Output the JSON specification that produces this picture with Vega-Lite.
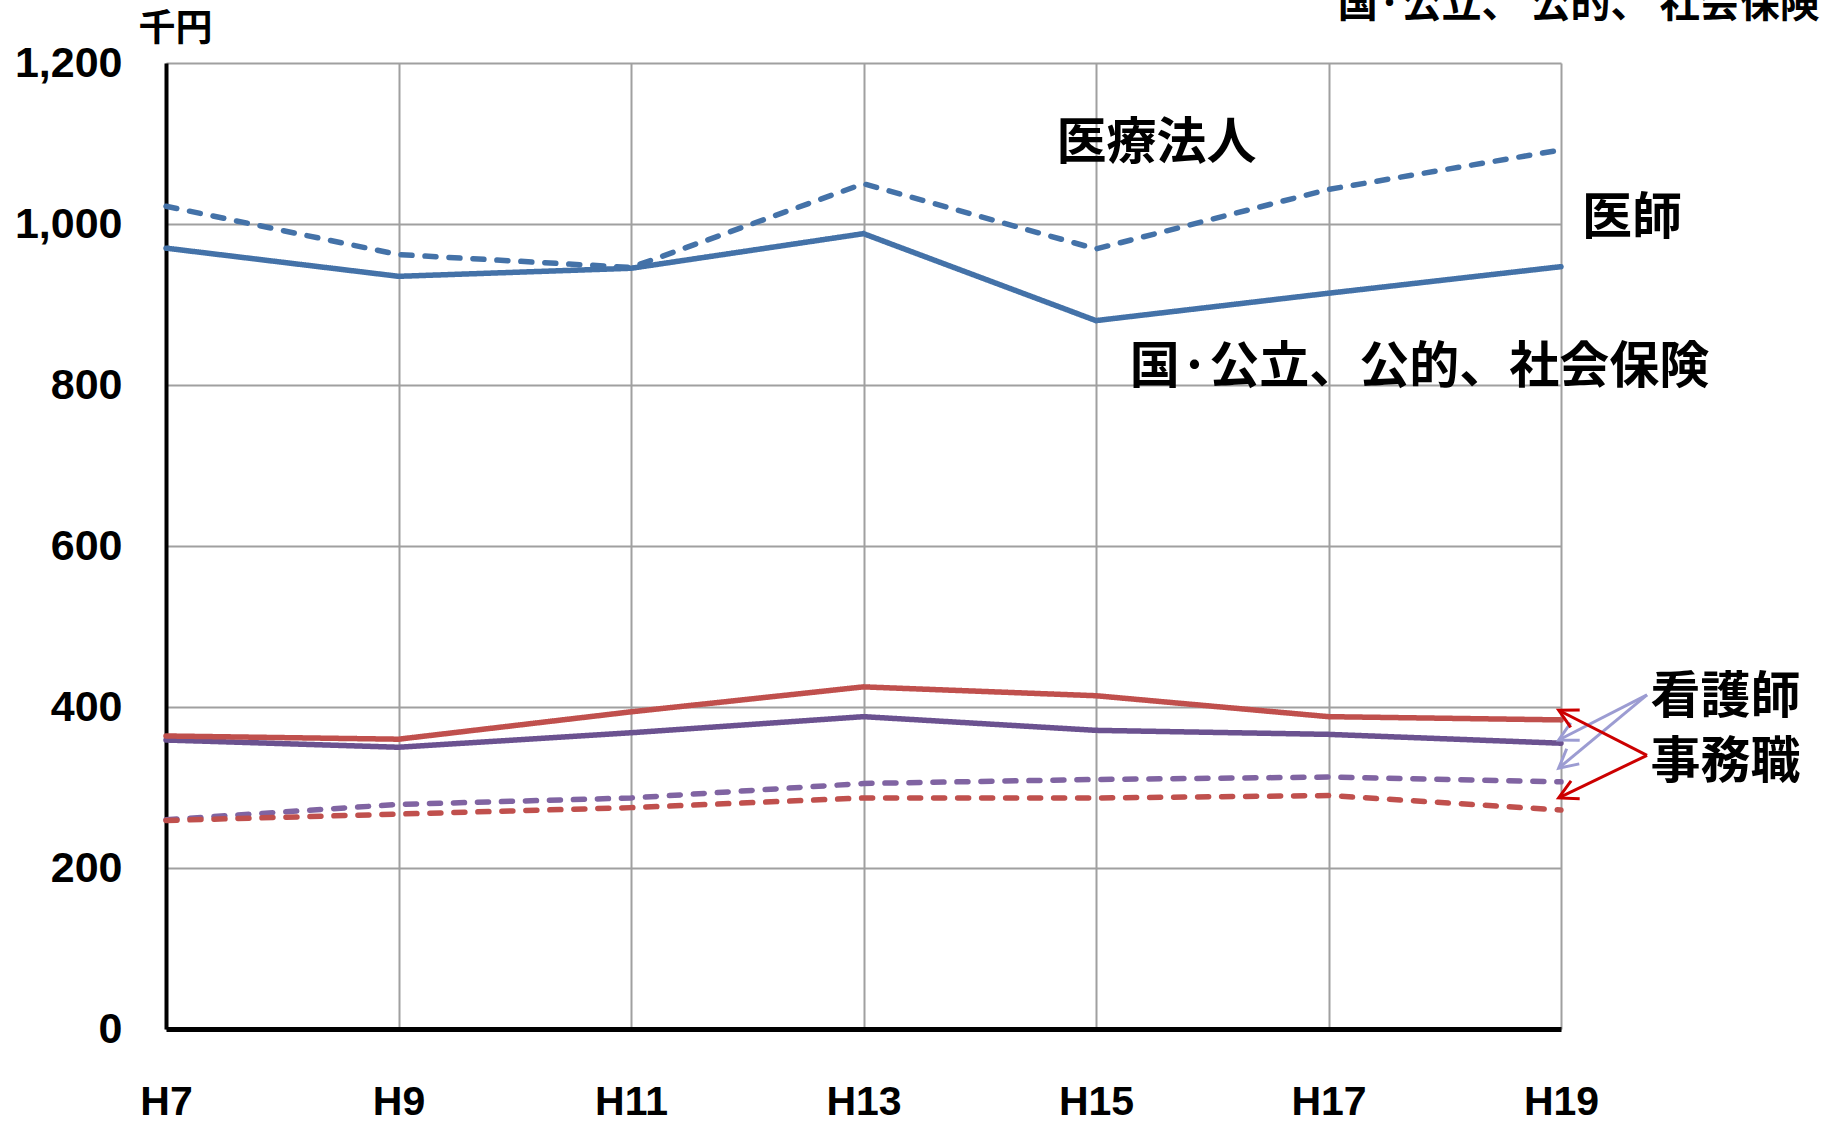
{
  "$schema": "https://vega.github.io/schema/vega-lite/v6.json",
  "width": 1395,
  "height": 966,
  "autosize": {"type": "none"},
  "padding": {"left": 166, "top": 63, "right": 266, "bottom": 94},
  "background": "white",
  "config": {"view": {"stroke": null}, "font": "Liberation Sans"},
  "datasets": {
    "series": [
      {"year": 7, "series": "看護師・国公立", "kind": "国公立", "value": 359},
      {"year": 9, "series": "看護師・国公立", "kind": "国公立", "value": 350},
      {"year": 11, "series": "看護師・国公立", "kind": "国公立", "value": 368},
      {"year": 13, "series": "看護師・国公立", "kind": "国公立", "value": 388},
      {"year": 15, "series": "看護師・国公立", "kind": "国公立", "value": 371},
      {"year": 17, "series": "看護師・国公立", "kind": "国公立", "value": 366},
      {"year": 19, "series": "看護師・国公立", "kind": "国公立", "value": 355},
      {"year": 7, "series": "看護師・医療法人", "kind": "医療法人", "value": 260},
      {"year": 9, "series": "看護師・医療法人", "kind": "医療法人", "value": 279},
      {"year": 11, "series": "看護師・医療法人", "kind": "医療法人", "value": 287},
      {"year": 13, "series": "看護師・医療法人", "kind": "医療法人", "value": 305},
      {"year": 15, "series": "看護師・医療法人", "kind": "医療法人", "value": 310},
      {"year": 17, "series": "看護師・医療法人", "kind": "医療法人", "value": 313},
      {"year": 19, "series": "看護師・医療法人", "kind": "医療法人", "value": 307},
      {"year": 7, "series": "事務職・国公立", "kind": "国公立", "value": 364},
      {"year": 9, "series": "事務職・国公立", "kind": "国公立", "value": 360},
      {"year": 11, "series": "事務職・国公立", "kind": "国公立", "value": 394},
      {"year": 13, "series": "事務職・国公立", "kind": "国公立", "value": 425},
      {"year": 15, "series": "事務職・国公立", "kind": "国公立", "value": 414},
      {"year": 17, "series": "事務職・国公立", "kind": "国公立", "value": 388},
      {"year": 19, "series": "事務職・国公立", "kind": "国公立", "value": 384},
      {"year": 7, "series": "事務職・医療法人", "kind": "医療法人", "value": 259},
      {"year": 9, "series": "事務職・医療法人", "kind": "医療法人", "value": 267},
      {"year": 11, "series": "事務職・医療法人", "kind": "医療法人", "value": 275},
      {"year": 13, "series": "事務職・医療法人", "kind": "医療法人", "value": 287},
      {"year": 15, "series": "事務職・医療法人", "kind": "医療法人", "value": 287},
      {"year": 17, "series": "事務職・医療法人", "kind": "医療法人", "value": 290},
      {"year": 19, "series": "事務職・医療法人", "kind": "医療法人", "value": 272},
      {"year": 7, "series": "医師・国公立", "kind": "国公立", "value": 970},
      {"year": 9, "series": "医師・国公立", "kind": "国公立", "value": 935},
      {"year": 11, "series": "医師・国公立", "kind": "国公立", "value": 945},
      {"year": 13, "series": "医師・国公立", "kind": "国公立", "value": 988},
      {"year": 15, "series": "医師・国公立", "kind": "国公立", "value": 880},
      {"year": 17, "series": "医師・国公立", "kind": "国公立", "value": 914},
      {"year": 19, "series": "医師・国公立", "kind": "国公立", "value": 947},
      {"year": 7, "series": "医師・医療法人", "kind": "医療法人", "value": 1022},
      {"year": 9, "series": "医師・医療法人", "kind": "医療法人", "value": 962},
      {"year": 11, "series": "医師・医療法人", "kind": "医療法人", "value": 946},
      {"year": 13, "series": "医師・医療法人", "kind": "医療法人", "value": 1050},
      {"year": 15, "series": "医師・医療法人", "kind": "医療法人", "value": 969},
      {"year": 17, "series": "医師・医療法人", "kind": "医療法人", "value": 1043},
      {"year": 19, "series": "医師・医療法人", "kind": "医療法人", "value": 1092}
    ],
    "arrows": [
      {"id": "p1", "group": "看護師", "xs": 19.74, "ys": 415, "xt": 18.98, "yt": 359},
      {"id": "p2", "group": "看護師", "xs": 19.74, "ys": 415, "xt": 18.98, "yt": 324},
      {"id": "r1", "group": "事務職", "xs": 19.74, "ys": 340, "xt": 18.98, "yt": 396},
      {"id": "r2", "group": "事務職", "xs": 19.74, "ys": 340, "xt": 18.98, "yt": 287}
    ],
    "labels": [
      {"label": "医療法人", "x": 14.66, "y": 1099},
      {"label": "医師", "x": 19.18, "y": 1006},
      {"label": "国·公立、公的、社会保険", "x": 15.29, "y": 821},
      {"label": "看護師", "x": 19.77, "y": 411},
      {"label": "事務職", "x": 19.77, "y": 331}
    ],
    "toplabel": [
      {"label": "国·公立、 公的、 社会保険", "x": 17.08, "y": 1272}
    ]
  },
  "layer": [
    {
      "data": {"name": "series"},
      "mark": {"type": "line", "strokeWidth": 5.5, "strokeCap": "round"},
      "encoding": {
        "x": {
          "field": "year", "type": "quantitative",
          "scale": {"domain": [7, 19], "nice": false, "zero": false},
          "axis": {
            "values": [7, 9, 11, 13, 15, 17, 19],
            "labelExpr": "'H' + datum.value",
            "title": null,
            "grid": true, "gridColor": "#A0A0A0", "gridWidth": 2,
            "domain": true, "domainColor": "#000000", "domainWidth": 5,
            "ticks": false,
            "labelFont": "Liberation Sans", "labelFontWeight": "bold", "labelFontSize": 41,
            "labelColor": "#000000", "labelPadding": 85, "labelBaseline": "alphabetic", "labelFlush": false
          }
        },
        "y": {
          "field": "value", "type": "quantitative",
          "scale": {"domain": [0, 1200], "nice": false},
          "axis": {
            "values": [0, 200, 400, 600, 800, 1000, 1200],
            "format": ",.0f",
            "grid": true, "gridColor": "#A0A0A0", "gridWidth": 2,
            "domain": true, "domainColor": "#000000", "domainWidth": 4,
            "ticks": false,
            "labelFont": "Liberation Sans", "labelFontWeight": "bold", "labelFontSize": 43,
            "labelColor": "#000000", "labelPadding": 44, "labelFlush": false,
            "title": "千円", "titleAngle": 0, "titleX": 9, "titleY": -34,
            "titleAlign": "center", "titleBaseline": "middle",
            "titleFont": "Noto Sans CJK JP", "titleFontSize": 37, "titleFontWeight": "bold",
            "titleColor": "#000000"
          }
        },
        "color": {
          "field": "series", "type": "nominal",
          "scale": {
            "domain": ["看護師・国公立", "看護師・医療法人", "事務職・国公立", "事務職・医療法人", "医師・国公立", "医師・医療法人"],
            "range": ["#6B5290", "#8064A2", "#C0504D", "#C0504D", "#4472A8", "#4472A8"]
          },
          "legend": null
        },
        "strokeDash": {
          "field": "kind", "type": "nominal",
          "scale": {"domain": ["国公立", "医療法人"], "range": [[1, 0], [11, 13]]},
          "legend": null
        },
        "order": {"field": "year", "type": "quantitative"}
      }
    },
    {
      "data": {"name": "arrows"},
      "transform": [{"filter": "datum.group === '看護師'"}],
      "mark": {"type": "rule", "color": "#9C9CD2", "strokeWidth": 3},
      "encoding": {
        "x": {"field": "xs", "type": "quantitative"},
        "y": {"field": "ys", "type": "quantitative"},
        "x2": {"field": "xt"},
        "y2": {"field": "yt"}
      }
    },
    {
      "data": {"name": "arrows"},
      "transform": [{"filter": "datum.group === '事務職'"}],
      "mark": {"type": "rule", "color": "#CC0000", "strokeWidth": 3},
      "encoding": {
        "x": {"field": "xs", "type": "quantitative"},
        "y": {"field": "ys", "type": "quantitative"},
        "x2": {"field": "xt"},
        "y2": {"field": "yt"}
      }
    },
    {
      "data": {"name": "arrows"},
      "transform": [{"filter": "datum.id === 'p1'"}],
      "mark": {"type": "point", "shape": "M-1,-0.53L0,0L-1,0.53", "filled": false, "size": 1380, "strokeWidth": 3, "color": "#9C9CD2", "opacity": 1, "angle": 152.9},
      "encoding": {"x": {"field": "xt", "type": "quantitative"}, "y": {"field": "yt", "type": "quantitative"}}
    },
    {
      "data": {"name": "arrows"},
      "transform": [{"filter": "datum.id === 'p2'"}],
      "mark": {"type": "point", "shape": "M-1,-0.53L0,0L-1,0.53", "filled": false, "size": 1380, "strokeWidth": 3, "color": "#9C9CD2", "opacity": 1, "angle": 140.3},
      "encoding": {"x": {"field": "xt", "type": "quantitative"}, "y": {"field": "yt", "type": "quantitative"}}
    },
    {
      "data": {"name": "arrows"},
      "transform": [{"filter": "datum.id === 'r1'"}],
      "mark": {"type": "point", "shape": "M-1,-0.53L0,0L-1,0.53", "filled": false, "size": 1380, "strokeWidth": 3, "color": "#CC0000", "opacity": 1, "angle": 207.1},
      "encoding": {"x": {"field": "xt", "type": "quantitative"}, "y": {"field": "yt", "type": "quantitative"}}
    },
    {
      "data": {"name": "arrows"},
      "transform": [{"filter": "datum.id === 'r2'"}],
      "mark": {"type": "point", "shape": "M-1,-0.53L0,0L-1,0.53", "filled": false, "size": 1380, "strokeWidth": 3, "color": "#CC0000", "opacity": 1, "angle": 154.0},
      "encoding": {"x": {"field": "xt", "type": "quantitative"}, "y": {"field": "yt", "type": "quantitative"}}
    },
    {
      "data": {"name": "labels"},
      "mark": {"type": "text", "font": "Noto Sans CJK JP", "fontWeight": "bold", "fontSize": 50, "align": "left", "baseline": "middle", "color": "#000000"},
      "encoding": {
        "x": {"field": "x", "type": "quantitative"},
        "y": {"field": "y", "type": "quantitative"},
        "text": {"field": "label"}
      }
    },
    {
      "data": {"name": "toplabel"},
      "mark": {"type": "text", "font": "Noto Sans CJK JP", "fontWeight": "bold", "fontSize": 40, "align": "left", "baseline": "middle", "color": "#000000"},
      "encoding": {
        "x": {"field": "x", "type": "quantitative"},
        "y": {"field": "y", "type": "quantitative"},
        "text": {"field": "label"}
      }
    }
  ]
}
